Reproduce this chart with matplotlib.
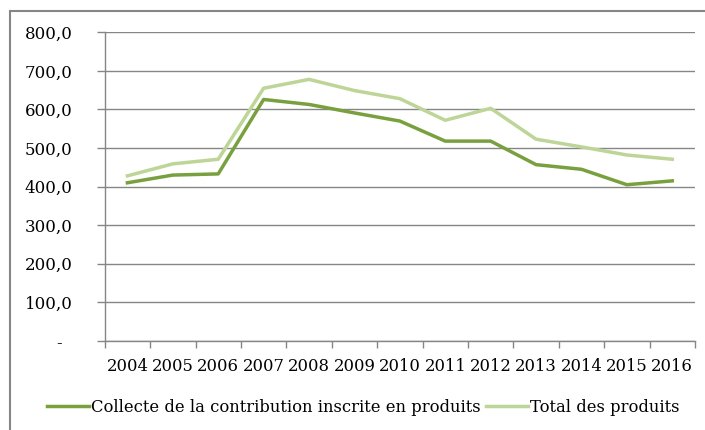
import numpy as np
import matplotlib
matplotlib.use("Agg")
import matplotlib.pyplot as plt
from matplotlib.patches import Rectangle

years = ["2004", "2005", "2006", "2007", "2008", "2009", "2010",
         "2011", "2012", "2013", "2014", "2015", "2016"]
collecte = [410, 430, 433, 626, 613, 591, 570, 518, 518, 457, 445, 405, 415]
total = [428, 459, 471, 655, 678, 649, 628, 572, 603, 523, 503, 482, 471]
yticks = [0, 100, 200, 300, 400, 500, 600, 700, 800]
ytick_labels = ["-  ", "100,0", "200,0", "300,0", "400,0", "500,0", "600,0", "700,0", "800,0"]

plt.rcParams['font.family'] = ['DejaVu Serif']
gray = '#868686'

fig = plt.figure(figsize=(7.05, 4.3), dpi=100)
ax = fig.add_axes([104.7/705, 1-341/430, (695-104.7)/705, (341-32.3)/430])

x = np.arange(len(years))
ax.plot(x, collecte, color='#79A03E', lw=2.5, label='Collecte de la contribution inscrite en produits',
        solid_joinstyle='round', zorder=3)
ax.plot(x, total, color='#BED598', lw=2.5, label='Total des produits',
        solid_joinstyle='round', zorder=3)

ax.set_xlim(-0.5, len(years)-0.5)
ax.set_ylim(0, 800)
ax.set_yticks(yticks)
ax.set_yticklabels(ytick_labels, fontsize=12)
ax.set_xticks(x)
ax.set_xticklabels(years, fontsize=11.8)
ax.set_xticks(np.arange(len(years)+1)-0.5, minor=True)
ax.tick_params(axis='x', which='major', length=0, pad=12)
ax.tick_params(axis='x', which='minor', length=5, color=gray, width=1)
ax.tick_params(axis='y', length=6, color=gray, width=1, pad=17)
ax.yaxis.grid(True, color=gray, lw=1)
ax.set_axisbelow(True)
for s in ['top', 'right']:
    ax.spines[s].set_visible(False)
for s in ['left', 'bottom']:
    ax.spines[s].set_color(gray)
    ax.spines[s].set_linewidth(1)

fig.legend(loc='center', bbox_to_anchor=(0.515, 1-407/430), ncol=2, frameon=False,
           fontsize=11.8, handlelength=2.6, handletextpad=0.1, columnspacing=0.3)

fig.patches.append(Rectangle((9.5/705, -0.1), 1.1, 1.1-10.7/430, transform=fig.transFigure,
                             fill=False, edgecolor=gray, lw=1.5))

fig.savefig("out.png", dpi=100)
